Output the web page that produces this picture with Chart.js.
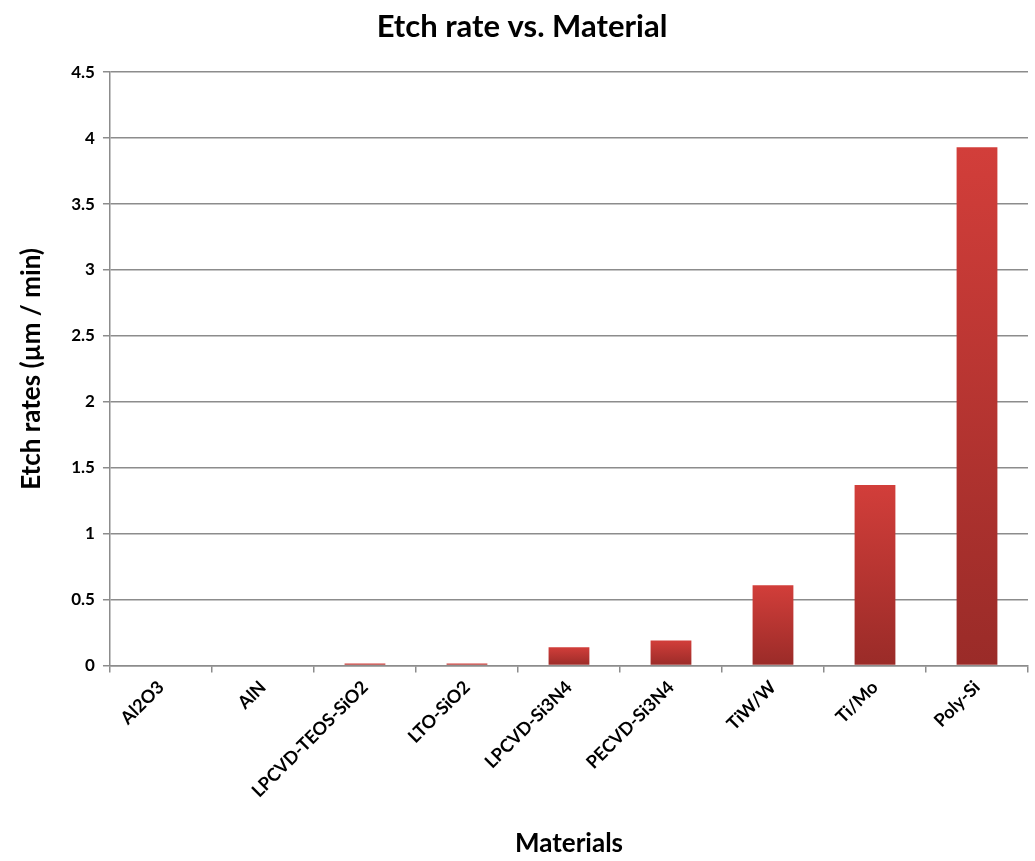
<!DOCTYPE html>
<html>
<head>
<meta charset="utf-8">
<script src="https://cdn.jsdelivr.net/npm/chart.js@4"></script>
<style>
  html, body { margin: 0; padding: 0; background: #fff; }
  #wrap { width: 1035px; height: 861px; }
</style>
</head>
<body>
<div id="wrap"><canvas id="etchChart"></canvas></div>
<script>
// Etch rates per material (µm / min)
var materials = ['Al2O3', 'AlN', 'LPCVD-TEOS-SiO2', 'LTO-SiO2', 'LPCVD-Si3N4', 'PECVD-Si3N4', 'TiW/W', 'Ti/Mo', 'Poly-Si'];
var etchRates = [0, 0, 0.015, 0.015, 0.14, 0.19, 0.61, 1.37, 3.93];

var yMin = 0;
var yMax = 4.5;
var yStep = 0.5;

var fontFamily = 'Lato, "Open Sans", sans-serif';

// vertical gradient per bar: lighter red on top, darker at the base
function barGradient(ctx) {
    var chart = ctx.chart;
    var area = chart.chartArea;
    if (!area || ctx.type !== 'data') return '#c0362f';
    var y = chart.scales.y;
    var top = y.getPixelForValue(ctx.raw);
    var base = y.getPixelForValue(0);
    if (base - top < 1) top = base - 1;
    var g = chart.ctx.createLinearGradient(0, top, 0, base);
    g.addColorStop(0, '#d23e3a');
    g.addColorStop(1, '#9a2b28');
    return g;
}

var chart = new Chart(document.getElementById('etchChart'), {
    type: 'bar',
    data: {
        labels: materials,
        datasets: [{
            data: etchRates,
            backgroundColor: barGradient,
            borderWidth: 0,
            barPercentage: 0.4,
            categoryPercentage: 1.0
        }]
    },
    options: {
        responsive: true,
        maintainAspectRatio: false,
        animation: false,
        layout: { padding: { left: 16, right: 7, top: 0, bottom: 2 } },
        plugins: {
            legend: { display: false },
            tooltip: { enabled: false },
            title: {
                display: true,
                text: 'Etch rate vs. Material',
                color: '#000',
                font: { family: fontFamily, size: 31, weight: 'bold' },
                padding: { top: 8, bottom: 27 }
            }
        },
        scales: {
            x: {
                grid: {
                    offset: true,
                    drawOnChartArea: false,
                    drawTicks: true,
                    tickLength: 7,
                    color: '#8c8c8c',
                    lineWidth: 1.5
                },
                border: { color: '#8c8c8c', width: 1.5 },
                ticks: {
                    color: '#000',
                    minRotation: 45,
                    maxRotation: 45,
                    padding: 4,
                    font: { family: fontFamily, size: 18, weight: 'bold' }
                },
                title: {
                    display: true,
                    text: 'Materials',
                    color: '#000',
                    font: { family: fontFamily, size: 26, weight: 'bold' },
                    padding: { top: 22, bottom: 0 }
                }
            },
            y: {
                min: yMin,
                max: yMax,
                grid: {
                    color: '#8c8c8c',
                    lineWidth: 1.5,
                    tickLength: 7
                },
                border: { color: '#8c8c8c', width: 1.5 },
                ticks: {
                    stepSize: yStep,
                    color: '#000',
                    padding: 8,
                    font: { family: fontFamily, size: 17, weight: 'bold' },
                    callback: function (v) { return String(v); }
                },
                title: {
                    display: true,
                    text: 'Etch rates (µm / min)',
                    color: '#000',
                    font: { family: fontFamily, size: 26, weight: 'bold' },
                    padding: { top: 0, bottom: 16 }
                }
            }
        }
    }
});
</script>
</body>
</html>
